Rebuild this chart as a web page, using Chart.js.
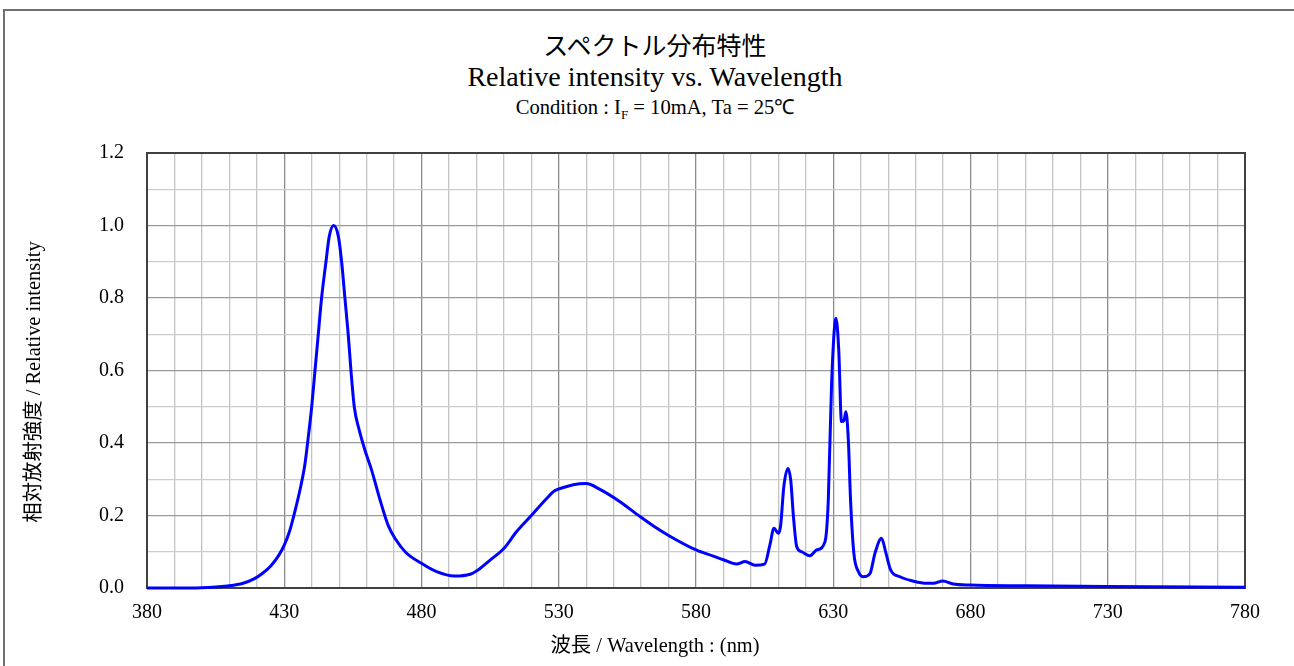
<!DOCTYPE html>
<html>
<head>
<meta charset="utf-8">
<script src="https://cdn.jsdelivr.net/npm/chart.js@4/dist/chart.umd.min.js"></script>
<style>
  body { margin: 0; background: #fff; }
  #wrap { position: relative; width: 1294px; height: 666px; overflow: hidden; }
  #frame { position: absolute; left: 3px; top: 9px; width: 1300px; height: 700px;
           border-left: 2px solid #707070; border-top: 2px solid #707070; }
  .hd { position: absolute; left: 405px; width: 500px; text-align: center; color: #000; white-space: nowrap; }
  #t1 { top: 26px; font: 25px "Noto Sans CJK JP", sans-serif; }
  #t2 { top: 61px; font: 28px "Liberation Serif", serif; }
  #t3 { top: 92px; font: 20.6px "Liberation Serif", serif; }
  #t3 sub { font-size: 13px; }
  .ax { position: absolute; color: #000; white-space: nowrap; text-align: center;
        font: 20.4px "Liberation Serif", "Noto Sans CJK JP", serif; line-height: 24px; }
  #xt { left: 455px; width: 400px; top: 633px; }
  #yt { left: 33px; top: 382px; width: 400px; margin-left: -200px; margin-top: -12px;
        transform: rotate(-90deg); }
  canvas { position: absolute; left: 0; top: 0; }
</style>
</head>
<body>
<div id="wrap">
  <div id="frame"></div>
  <div class="hd" id="t1">スペクトル分布特性</div>
  <div class="hd" id="t2">Relative intensity vs. Wavelength</div>
  <div class="hd" id="t3">Condition : I<sub>F</sub> = 10mA, Ta = 25℃</div>
  <canvas id="spec" width="1294" height="666"></canvas>
  <div class="ax" id="xt"></div>
  <div class="ax" id="yt"></div>
</div>
<script>
// DATA

const wavelength = [
  380, 390, 400, 405, 410, 415, 419, 422, 425, 428,
  430, 432, 434, 436, 437.5, 438.5, 440, 441.2, 442.4, 443.6,
  445.2, 446.4, 448, 449.7, 450.9, 452.1, 453.3, 454.3, 455.5, 457.3,
  459.4, 461.8, 464.9, 467.9, 470.5, 474.3, 480, 485.5, 492, 497.7,
  501, 505, 510, 514.6, 520, 525.6, 528.5, 532, 535.3, 540,
  545, 552.3, 559.6, 564.5, 570, 580, 586.3, 590, 594.8, 597.9,
  601.5, 605, 606.9, 608.4, 610, 610.8, 612, 613.5, 614.5, 615.5,
  616.7, 618.5, 621.5, 624, 627, 628.2, 629.4, 631, 632, 633,
  633.9, 634.6, 635.5, 636.3, 637.5, 639.1, 640.9, 643.4, 645.2, 647.6,
  649.2, 650.9, 654.3, 659.2, 664, 666.5, 669.9, 673.7, 680, 700,
  730, 780
];

const intensity = [
  0.000, 0.000, 0.001, 0.003, 0.006, 0.013, 0.025, 0.040, 0.060, 0.090,
  0.118, 0.158, 0.215, 0.280, 0.340, 0.400, 0.500, 0.600, 0.700, 0.800,
  0.900, 0.970, 1.000, 0.970, 0.900, 0.800, 0.700, 0.600, 0.500, 0.436,
  0.380, 0.326, 0.243, 0.172, 0.135, 0.098, 0.068, 0.045, 0.033, 0.038,
  0.052, 0.077, 0.109, 0.155, 0.200, 0.247, 0.268, 0.278, 0.285, 0.288,
  0.272, 0.238, 0.197, 0.171, 0.145, 0.105, 0.088, 0.078, 0.066, 0.073,
  0.063, 0.066, 0.118, 0.165, 0.151, 0.170, 0.280, 0.330, 0.298, 0.197,
  0.114, 0.100, 0.089, 0.105, 0.128, 0.243, 0.565, 0.744, 0.657, 0.459,
  0.462, 0.486, 0.408, 0.243, 0.096, 0.046, 0.031, 0.040, 0.096, 0.137,
  0.096, 0.050, 0.031, 0.019, 0.013, 0.013, 0.019, 0.011, 0.008, 0.006,
  0.004, 0.002
];

const xMin = 380, xMax = 780, xMajor = 50;
const yMin = 0, yMax = 1.2;

const xTitle = "波長 / Wavelength : (nm)";
const yTitle = "相対放射強度 / Relative intensity";

document.getElementById("xt").textContent = xTitle;
document.getElementById("yt").textContent = yTitle;

const points = wavelength.map((w, i) => ({ x: w, y: intensity[i] }));

const serif = "'Liberation Serif', 'Noto Sans CJK JP', serif";

// frame round the plot area
const frame = {
  id: "frame",
  beforeDatasetsDraw(chart) {
    const a = chart.chartArea;
    const c = chart.ctx;
    c.save();
    c.strokeStyle = "#404040";
    c.lineWidth = 2;
    c.strokeRect(a.left, a.top, a.right - a.left, a.bottom - a.top);
    c.restore();
  }
};

new Chart(document.getElementById("spec"), {
  type: "line",
  data: {
    datasets: [{
      data: points,
      borderColor: "#0000ff",
      borderWidth: 3,
      pointRadius: 0,
      fill: false,
      cubicInterpolationMode: "monotone",
      clip: false
    }]
  },
  options: {
    responsive: false,
    animation: false,
    layout: { padding: { top: 153, right: 49, left: 0, bottom: 0 } },
    plugins: { legend: { display: false }, tooltip: { enabled: false } },
    scales: {
      x: {
        type: "linear",
        min: xMin,
        max: xMax,
        afterFit: (s) => { s.height = 78; },
        ticks: {
          stepSize: 10,
          autoSkip: false,
          maxRotation: 0,
          padding: 13,
          color: "#000",
          font: { family: serif, size: 20 },
          callback: (v) => ((v - xMin) % xMajor === 0 ? v : "")
        },
        grid: {
          drawTicks: false,
          lineWidth: 1.3,
          color: (ctx) => ((ctx.tick.value - xMin) % xMajor === 0 ? "#8c8c8c" : "#c4c4c4")
        },
        border: { color: "#000", width: 2 }
      },
      y: {
        min: yMin,
        max: yMax,
        afterFit: (s) => { s.width = 147; },
        ticks: {
          stepSize: 0.1,
          padding: 23,
          color: "#000",
          font: { family: serif, size: 20 },
          callback: (v) => (Math.round(v * 10) % 2 === 0 ? v.toFixed(1) : "")
        },
        grid: {
          drawTicks: false,
          lineWidth: 1.3,
          color: (ctx) => (Math.round(ctx.tick.value * 10) % 2 === 0 ? "#9a9a9a" : "#cccccc")
        },
        border: { color: "#404040", width: 2 }
      }
    }
  },
  plugins: [frame]
});
</script>
</body>
</html>
